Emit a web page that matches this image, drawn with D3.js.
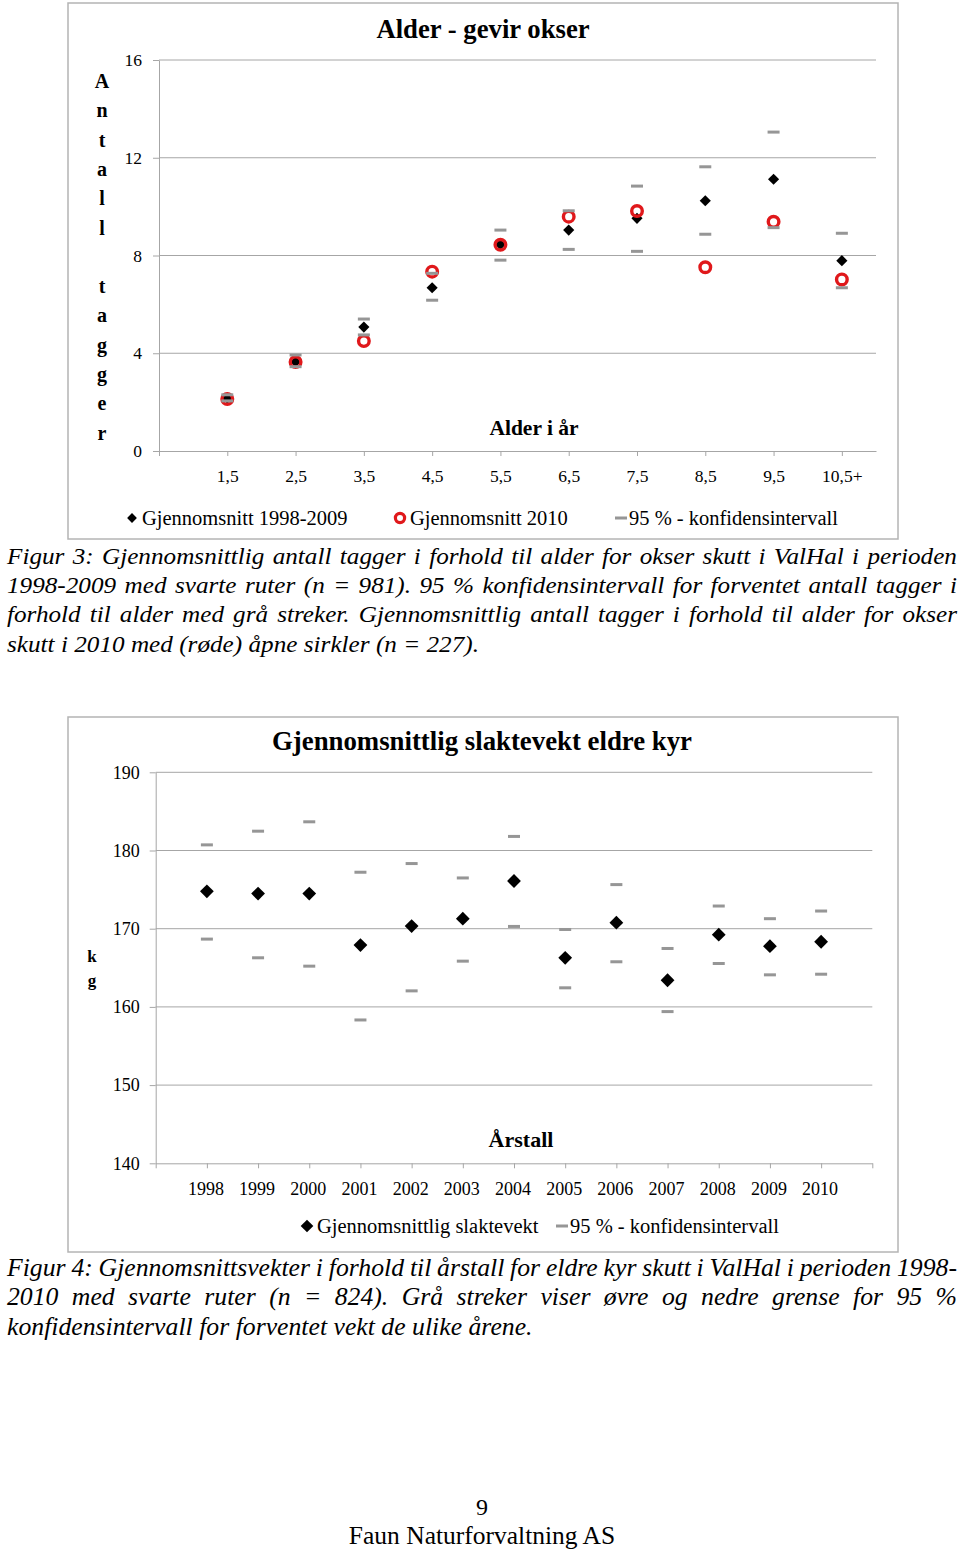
<!DOCTYPE html>
<html><head><meta charset="utf-8">
<script src="https://cdn.jsdelivr.net/npm/d3@7"></script>
<style>
body{margin:0;background:#fff;}
svg{display:block;font-family:"Liberation Serif","Times New Roman",serif;}
</style></head>
<body>
<svg id="page" width="960" height="1551"></svg>
<script>
// ---------- Data: chart 1 ----------
const ageCats = ["1,5","2,5","3,5","4,5","5,5","6,5","7,5","8,5","9,5","10,5+"];
const mean9809 = [2.16,3.65,5.07,6.68,8.45,9.04,9.52,10.24,11.12,7.79];
const mean2010 = [2.13,3.64,4.50,7.34,8.44,9.59,9.82,7.52,9.38,7.02];
const ciUpper1 = [2.30,3.93,5.40,7.27,9.04,9.83,10.84,11.63,13.05,8.91];
const ciLower1 = [2.05,3.45,4.75,6.17,7.81,8.25,8.17,8.87,9.14,6.68];
const yTicks1 = [0,4,8,12,16];
const title1 = "Alder - gevir okser";
const xTitle1 = "Alder i år";
const yTitle1 = "Antall tagger";
const legend1 = ["Gjennomsnitt 1998-2009","Gjennomsnitt 2010","95 % - konfidensintervall"];

// ---------- Data: chart 2 ----------
const years = ["1998","1999","2000","2001","2002","2003","2004","2005","2006","2007","2008","2009","2010"];
const weight = [174.78,174.49,174.49,167.90,170.33,171.28,176.10,166.28,170.77,163.41,169.23,167.77,168.33];
const ciUpper2 = [180.72,182.47,183.67,177.22,178.33,176.49,181.80,169.90,175.64,167.47,172.90,171.28,172.26];
const ciLower2 = [168.67,166.28,165.21,158.33,162.05,165.85,170.29,162.44,165.77,159.40,165.55,164.10,164.18];
const yTicks2 = [140,150,160,170,180,190];
const title2 = "Gjennomsnittlig slaktevekt eldre kyr";
const xTitle2 = "Årstall";
const yTitle2 = "kg";
const legend2 = ["Gjennomsnittlig slaktevekt","95 % - konfidensintervall"];

// ---------- Texts ----------
const caption1 = [
 "Figur 3: Gjennomsnittlig antall tagger i forhold til alder for okser skutt i ValHal i perioden",
 "1998-2009 med svarte ruter (n = 981). 95 % konfidensintervall for forventet antall tagger i",
 "forhold til alder med grå streker. Gjennomsnittlig antall tagger i forhold til alder for okser",
 "skutt i 2010 med (røde) åpne sirkler (n = 227)."
];
const caption2 = [
 "Figur 4: Gjennomsnittsvekter i forhold til årstall for eldre kyr skutt i ValHal i perioden 1998-",
 "2010 med svarte ruter (n = 824). Grå streker viser øvre og nedre grense for 95 %",
 "konfidensintervall for forventet vekt de ulike årene."
];
const footer = ["9","Faun Naturforvaltning AS"];

const svg = d3.select("#page");
const GRID = "#a6a6a6", CIC = "#969696", RED = "#e0181b";

function frame(x0,y0,x1,y1){
  svg.append("rect").attr("x",x0).attr("y",y0).attr("width",x1-x0).attr("height",y1-y0)
    .attr("fill","#fff").attr("stroke","#b4b4b4").attr("stroke-width",1.5);
}
function diamond(sel,size){
  return sel.attr("d", d3.symbol().type(d3.symbolSquare).size(size)());
}

// ================= CHART 1 =================
frame(68,3,898,539);
const x1 = d3.scaleLinear().domain([0,10.5]).range([159,876]);
const y1 = d3.scaleLinear().domain([0,16]).range([451,60]);
const c1 = svg.append("g");

c1.selectAll("line.grid").data(yTicks1.slice(1)).join("line")
  .attr("x1",x1(0)).attr("x2",x1(10.5)).attr("y1",d=>y1(d)).attr("y2",d=>y1(d))
  .attr("stroke",GRID).attr("stroke-width",1);

const ax1 = c1.append("g").attr("transform",`translate(0,${y1(0)})`)
  .call(d3.axisBottom(x1).tickValues(d3.range(0,11)).tickFormat(i=>i>=1?ageCats[i-1]:"")
    .tickSize(5).tickSizeOuter(0).tickPadding(14));
const ay1 = c1.append("g").attr("transform",`translate(${x1(0)},0)`)
  .call(d3.axisLeft(y1).tickValues(yTicks1).tickSize(6).tickSizeOuter(0).tickPadding(11));
[ax1,ay1].forEach(a=>{
  a.select(".domain").attr("stroke",GRID);
  a.selectAll(".tick line").attr("stroke",GRID);
  a.selectAll("text").attr("font-family","Liberation Serif").attr("font-size",17.5).attr("fill","#000");
});
ay1.selectAll(".tick text").attr("dy","0.32em").attr("x",-17);

c1.append("text").attr("x",483).attr("y",38).attr("text-anchor","middle")
  .attr("font-size",26.7).attr("font-weight","bold").text(title1);
c1.append("text").attr("x",534).attr("y",435).attr("text-anchor","middle")
  .attr("font-size",21.5).attr("font-weight","bold").text(xTitle1);
c1.selectAll("text.yt").data(yTitle1.split("")).join("text")
  .attr("x",102).attr("y",(d,i)=>88+i*29.3).attr("text-anchor","middle")
  .attr("font-size",20).attr("font-weight","bold").text(d=>d);

// marks
c1.selectAll("path.m1").data(mean9809).join("path")
  .call(diamond,62).attr("fill","#000")
  .attr("transform",(d,i)=>`translate(${x1(i+1)},${y1(d)}) rotate(45)`);
c1.selectAll("circle.m2").data(mean2010).join("circle")
  .attr("cx",(d,i)=>x1(i+1)).attr("cy",d=>y1(d)).attr("r",5.3)
  .attr("fill","none").attr("stroke",RED).attr("stroke-width",3.4);
[ciUpper1,ciLower1].forEach(arr=>{
  c1.selectAll(null).data(arr).join("rect")
    .attr("x",(d,i)=>x1(i+1)-6).attr("y",d=>y1(d)-1.5).attr("width",12).attr("height",3)
    .attr("fill",CIC);
});

// legend 1
const lg1 = c1.append("g").attr("font-size",20.5);
lg1.append("path").call(diamond,48).attr("fill","#000").attr("transform","translate(132,518) rotate(45)");
lg1.append("text").attr("x",142).attr("y",525).text(legend1[0]);
lg1.append("circle").attr("cx",400).attr("cy",518).attr("r",4.6).attr("fill","none").attr("stroke",RED).attr("stroke-width",3.2);
lg1.append("text").attr("x",410).attr("y",525).text(legend1[1]);
lg1.append("rect").attr("x",615).attr("y",516.5).attr("width",12).attr("height",3).attr("fill",CIC);
lg1.append("text").attr("x",629).attr("y",525).text(legend1[2]);

// ================= CHART 2 =================
frame(68,717,898,1252);
const x2 = d3.scaleLinear().domain([0,14]).range([155.7,872.3]);
const y2 = d3.scaleLinear().domain([140,190]).range([1163.3,772.3]);
const c2 = svg.append("g");

c2.selectAll("line.grid").data(yTicks2.slice(1)).join("line")
  .attr("x1",x2(0)).attr("x2",x2(14)).attr("y1",d=>y2(d)).attr("y2",d=>y2(d))
  .attr("stroke",GRID).attr("stroke-width",1);
const ax2 = c2.append("g").attr("transform",`translate(0,${y2(140)})`)
  .call(d3.axisBottom(x2).tickValues(d3.range(0,15)).tickFormat(i=>(i>=1&&i<=13)?years[i-1]:"")
    .tickSize(5).tickSizeOuter(0).tickPadding(14));
const ay2 = c2.append("g").attr("transform",`translate(${x2(0)},0)`)
  .call(d3.axisLeft(y2).tickValues(yTicks2).tickSize(6).tickSizeOuter(0).tickPadding(11));
[ax2,ay2].forEach(a=>{
  a.select(".domain").attr("stroke",GRID);
  a.selectAll(".tick line").attr("stroke",GRID);
  a.selectAll("text").attr("font-family","Liberation Serif").attr("font-size",18).attr("fill","#000");
});
ay2.selectAll(".tick text").attr("dy","0.32em").attr("x",-16);
ax2.selectAll(".tick text").attr("dx",-1.5);

c2.append("text").attr("x",482).attr("y",750).attr("text-anchor","middle")
  .attr("font-size",26.8).attr("font-weight","bold").text(title2);
c2.append("text").attr("x",521).attr("y",1147).attr("text-anchor","middle")
  .attr("font-size",22).attr("font-weight","bold").text(xTitle2);
c2.selectAll("text.yt").data(yTitle2.split("")).join("text")
  .attr("x",92).attr("y",(d,i)=>962+i*24).attr("text-anchor","middle")
  .attr("font-size",17).attr("font-weight","bold").text(d=>d);

[ciUpper2,ciLower2].forEach(arr=>{
  c2.selectAll(null).data(arr).join("rect")
    .attr("x",(d,i)=>x2(i+1)-6).attr("y",d=>y2(d)-1.5).attr("width",12).attr("height",3)
    .attr("fill",CIC);
});
c2.selectAll("path.m").data(weight).join("path")
  .call(diamond,95).attr("fill","#000")
  .attr("transform",(d,i)=>`translate(${x2(i+1)},${y2(d)}) rotate(45)`);

const lg2 = c2.append("g").attr("font-size",20.5);
lg2.append("path").call(diamond,80).attr("fill","#000").attr("transform","translate(307,1226) rotate(45)");
lg2.append("text").attr("x",317).attr("y",1233).text(legend2[0]);
lg2.append("rect").attr("x",556).attr("y",1224.5).attr("width",12).attr("height",3).attr("fill",CIC);
lg2.append("text").attr("x",570).attr("y",1233).text(legend2[1]);

// ================= Captions =================
function paragraph(lines, y0, lh, size, sx, xL, xR){
  const g = svg.append("g").attr("font-size",size).attr("font-style","italic");
  lines.forEach((line,li)=>{
    const y = y0 + li*lh;
    const last = li===lines.length-1;
    const words = line.split(" ");
    const nodes = words.map(w=>g.append("text").attr("y",y).text(w));
    const widths = nodes.map(n=>n.node().getComputedTextLength());
    const W = d3.sum(widths)*sx;
    const target = xR-xL;
    const natGap = size*0.25*sx;
    let gap = last ? natGap : (target-W)/(words.length-1);
    let s = sx;
    if(!last && gap < natGap*0.8){ gap = natGap*0.8; s = (target - gap*(words.length-1))/d3.sum(widths); }
    let x = xL;
    nodes.forEach((n,i)=>{
      n.attr("transform",`translate(${x},0) scale(${s},1)`);
      x += widths[i]*s + gap;
    });
  });
}
paragraph(caption1, 564, 29.2, 22.5, 1.12, 7, 957);
paragraph(caption2, 1276, 29.5, 24.5, 1.05, 7, 957);

svg.append("text").attr("x",482).attr("y",1515).attr("text-anchor","middle").attr("font-size",24).text(footer[0]);
svg.append("text").attr("x",482).attr("y",1544).attr("text-anchor","middle").attr("font-size",25.5).text(footer[1]);
</script>
</body></html>
